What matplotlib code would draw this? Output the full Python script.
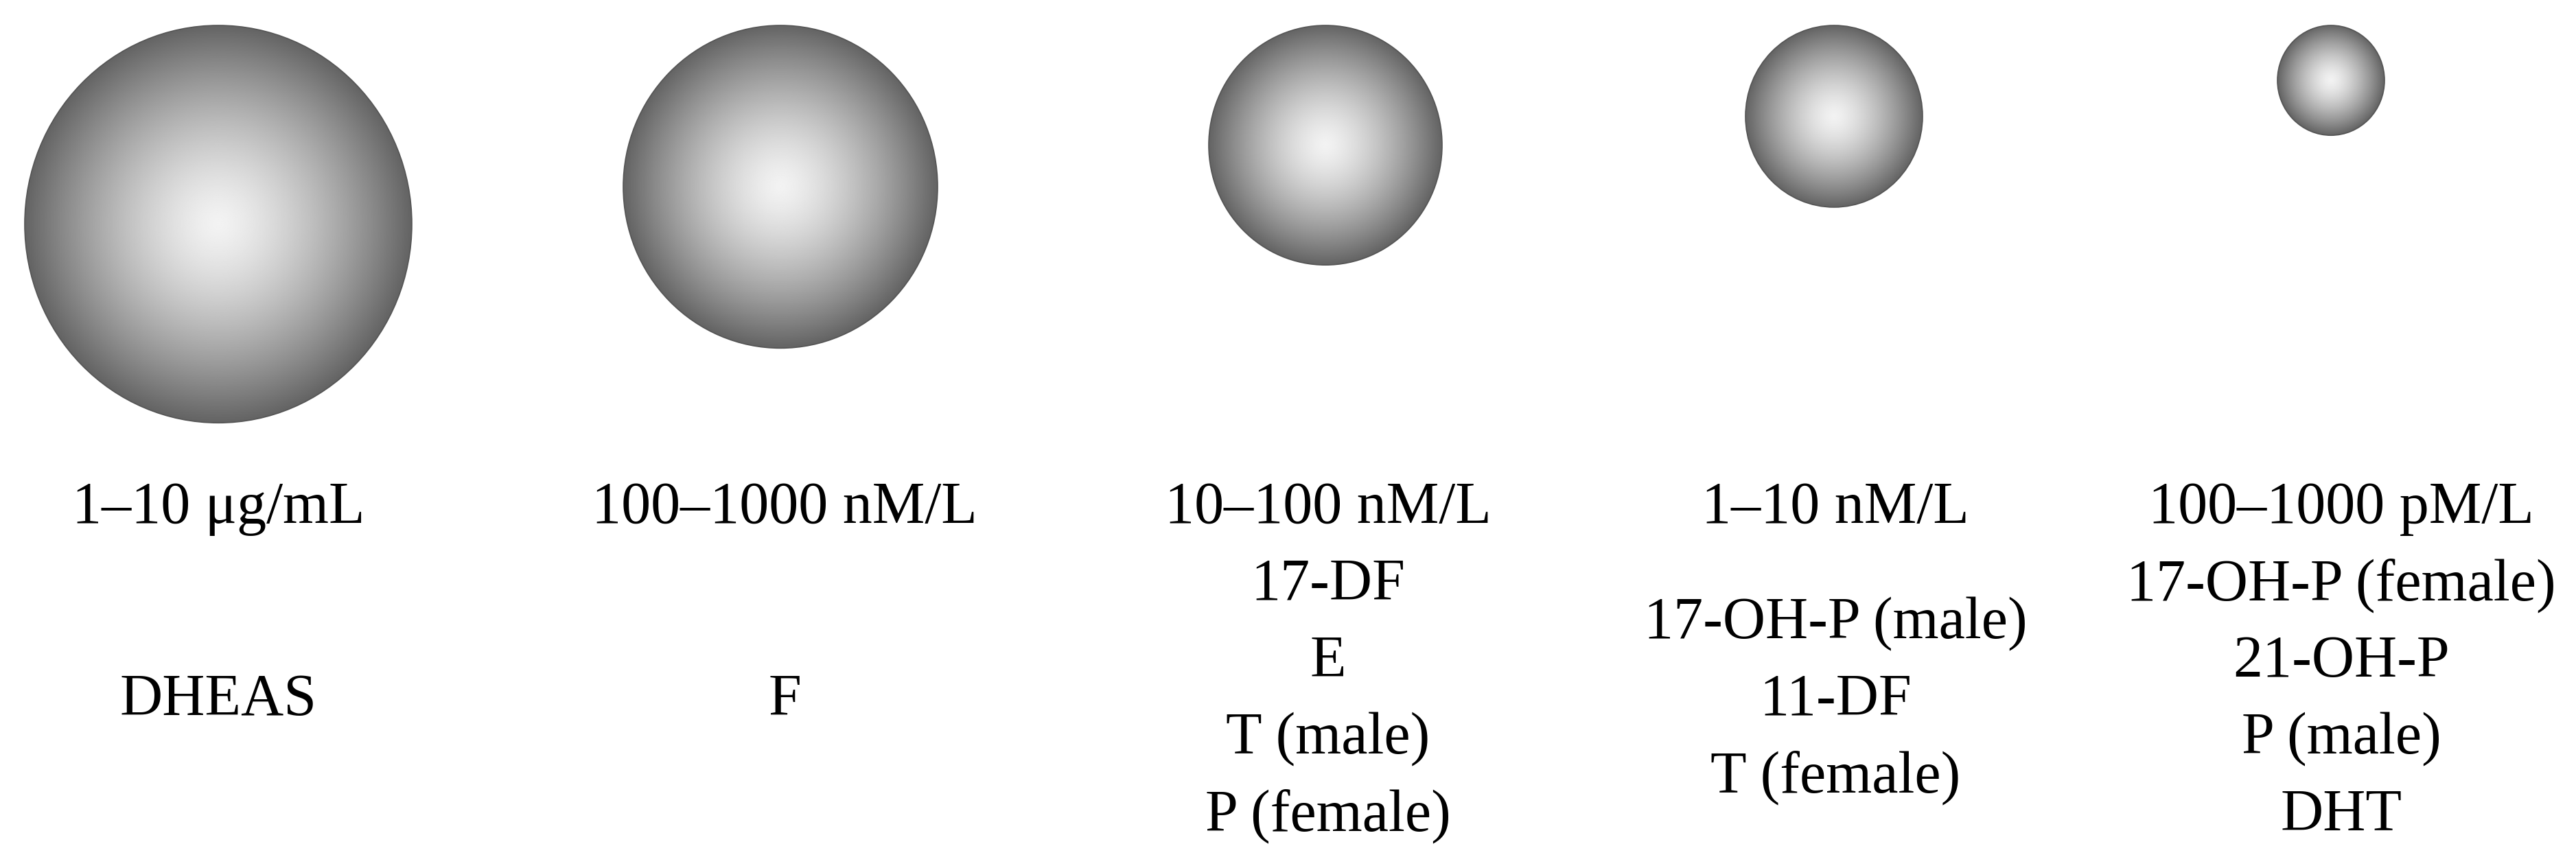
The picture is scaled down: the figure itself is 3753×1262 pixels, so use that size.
import matplotlib
matplotlib.use('Agg')
import matplotlib.pyplot as plt
import numpy as np
from matplotlib.patches import Ellipse

# concentration ranges and the steroids found in each range
levels = ['1–10 μg/mL', '100–1000 nM/L', '10–100 nM/L', '1–10 nM/L',
          '100–1000 pM/L']
hormones = [
    ['DHEAS'],
    ['F'],
    ['17-DF', 'E', 'T (male)', 'P (female)'],
    ['17-OH-P (male)', '11-DF', 'T (female)'],
    ['17-OH-P (female)', '21-OH-P', 'P (male)', 'DHT'],
]
# sphere radius (px) for each range
sphere_radius = [282, 229, 170, 129, 78]

# layout
W, H, DPI = 3753, 1262, 100
circle_x = [318, 1137, 1931, 2672, 3396]
text_x = [318, 1143, 1935, 2674, 3411]
TOP = 37
STRETCH = 1.027
LEVEL_Y = 762
MID_Y = 1042
LINE = 112
FONT = 'Liberation Serif'
FSIZE = 62

fig = plt.figure(figsize=(W / DPI, H / DPI), dpi=DPI)
ax = fig.add_axes([0, 0, 1, 1])
ax.axis('off')

# radial shading used for every sphere
n = 500
yy, xx = np.mgrid[-1:1:n * 1j, -1:1:n * 1j]
rr = np.clip(np.hypot(xx, yy), 0, 1)
shade = 0.95 - 0.56 * rr ** 1.4

for cx, r in zip(circle_x, sphere_radius):
    ry = r * STRETCH
    cy = TOP + ry
    im = ax.imshow(shade, cmap='gray', vmin=0, vmax=1, aspect='auto',
                   interpolation='bilinear',
                   extent=(cx - r, cx + r, cy + ry, cy - ry))
    clip = Ellipse((cx, cy), 2 * r, 2 * ry, facecolor='none',
                   edgecolor='none', transform=ax.transData)
    ax.add_patch(clip)
    im.set_clip_path(clip)
    ax.add_patch(Ellipse((cx, cy), 2 * r, 2 * ry, facecolor='none',
                         edgecolor='#555555', lw=1.2))

for x, level, names in zip(text_x, levels, hormones):
    ax.text(x, LEVEL_Y, level, ha='center', va='baseline',
            family=FONT, fontsize=FSIZE)
    k = len(names)
    ys = MID_Y + (np.arange(k) - (k - 1) / 2) * LINE
    for y, name in zip(ys, names):
        ax.text(x, y, name, ha='center', va='baseline',
                family=FONT, fontsize=FSIZE)

ax.set_xlim(0, W)
ax.set_ylim(H, 0)
fig.savefig('out.png', dpi=DPI, facecolor='white')
